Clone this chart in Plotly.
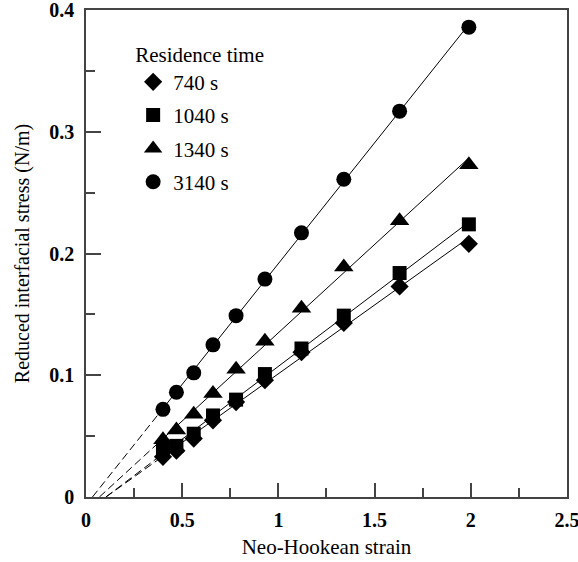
import numpy as np
import plotly.graph_objects as go

strain = [0.40, 0.47, 0.56, 0.66, 0.78, 0.93, 1.12, 1.34, 1.63, 1.99]
series_names = ["740 s", "1040 s", "1340 s", "3140 s"]
stress_740 = [0.033, 0.038, 0.048, 0.063, 0.078, 0.096, 0.119, 0.143, 0.173, 0.208]
stress_1040 = [0.038, 0.042, 0.052, 0.067, 0.080, 0.101, 0.122, 0.149, 0.184, 0.224]
stress_1340 = [0.047, 0.055, 0.068, 0.085, 0.105, 0.128, 0.155, 0.189, 0.227, 0.273]
stress_3140 = [0.072, 0.086, 0.102, 0.125, 0.149, 0.179, 0.217, 0.261, 0.317, 0.386]
symbols = ["diamond", "square", "triangle-up", "circle"]
sizes = [14, 14, 17, 15]

x_ticks = [0, 0.5, 1, 1.5, 2, 2.5]
x_tick_labels = ["0", "0.5", "1", "1.5", "2", "2.5"]
y_ticks = [0, 0.1, 0.2, 0.3, 0.4]
y_tick_labels = ["0", "0.1", "0.2", "0.3", "0.4"]

FONT = "Liberation Serif, Times New Roman, serif"
AXC = "#444"

fig = go.Figure()
all_series = [stress_740, stress_1040, stress_1340, stress_3140]
xs = np.array(strain)
for ys in all_series:
    a, b = np.polyfit(xs, np.array(ys), 1)
    x0 = -b / a
    fig.add_trace(go.Scatter(x=[x0, xs[0]], y=[a * x0 + b, a * xs[0] + b], mode="lines",
                             line=dict(color="black", width=1, dash="8px,4px"),
                             showlegend=False, hoverinfo="skip"))
    fig.add_trace(go.Scatter(x=[xs[0], xs[-1]], y=[a * xs[0] + b, a * xs[-1] + b], mode="lines",
                             line=dict(color="black", width=1),
                             showlegend=False, hoverinfo="skip"))

for name, ys, sym, sz in zip(series_names, all_series, symbols, sizes):
    fig.add_trace(go.Scatter(x=strain, y=ys, mode="markers", name=name, legendgroup=name,
                             marker=dict(symbol=sym, size=sz, color="black",
                                         line=dict(width=0))))

fig.update_layout(
    width=578, height=562,
    margin=dict(l=86, r=11, t=10, b=65),
    paper_bgcolor="white", plot_bgcolor="white",
    font=dict(family=FONT, color="black", size=20),
    legend=dict(
        title=dict(text="Residence time", font=dict(family=FONT, size=21)),
        font=dict(family=FONT, size=21),
        x=0.098, y=0.95, xanchor="left", yanchor="top",
        bgcolor="rgba(0,0,0,0)", borderwidth=0,
        tracegroupgap=3,
    ),
    showlegend=True,
)

fig.update_xaxes(
    range=[0, 2.5001], tickvals=x_ticks, ticktext=x_tick_labels,
    ticks="inside", ticklen=14, tickwidth=1.5, tickcolor=AXC,
    minor=dict(dtick=0.25, tick0=0, ticks="inside", ticklen=9, tickwidth=1.5, tickcolor=AXC),
    showline=True, linecolor=AXC, linewidth=1.5, mirror=True,
    showgrid=False, zeroline=False, automargin=False,
    tickfont=dict(family=FONT, size=20, weight="bold"),
    ticklabelstandoff=4, ticklabeloverflow="allow",
    title=dict(text="Neo-Hookean strain", font=dict(family=FONT, size=21), standoff=10),
)
fig.update_yaxes(
    range=[0, 0.4001], tickvals=y_ticks, ticktext=y_tick_labels,
    ticks="inside", ticklen=15, tickwidth=1.5, tickcolor=AXC,
    minor=dict(dtick=0.05, tick0=0, ticks="inside", ticklen=9, tickwidth=1.5, tickcolor=AXC),
    showline=True, linecolor=AXC, linewidth=1.5, mirror=True,
    showgrid=False, zeroline=False, automargin=False,
    tickfont=dict(family=FONT, size=20, weight="bold"),
    ticklabelstandoff=6, ticklabeloverflow="allow",
    title=dict(text="Reduced interfacial stress (N/m)", font=dict(family=FONT, size=20), standoff=14),
)

fig.write_html("out.html", config={"displayModeBar": False},
               post_script="document.body.style.margin='0';")
